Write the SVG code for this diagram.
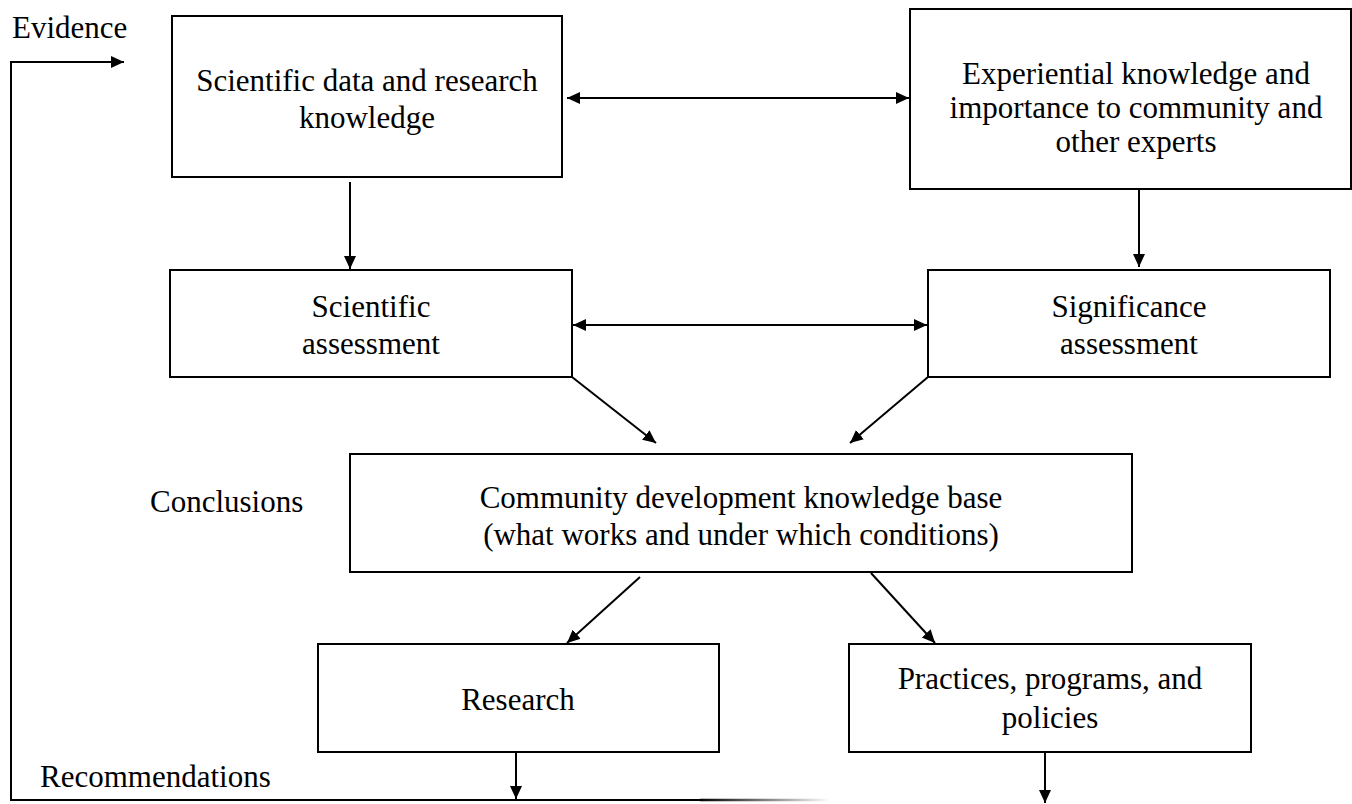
<svg xmlns="http://www.w3.org/2000/svg" width="1352" height="804" viewBox="0 0 1352 804">
<defs>
<style>
.box{fill:#fff;stroke:#000;stroke-width:2}
.t{font-family:"Liberation Serif","Times New Roman",serif;font-size:31px;fill:#000}
.c{text-anchor:middle}
.ln{fill:none;stroke:#000;stroke-width:2}
</style>
<marker id="ah" markerUnits="userSpaceOnUse" markerWidth="14" markerHeight="14" viewBox="0 0 14 12" refX="13" refY="6" orient="auto-start-reverse">
<path d="M0,0 L13,6 L0,12 z" fill="#000"/>
</marker>
<linearGradient id="fade" gradientUnits="userSpaceOnUse" x1="700" y1="0" x2="830" y2="0">
<stop offset="0" stop-color="#000"/>
<stop offset="1" stop-color="#000" stop-opacity="0"/>
</linearGradient>
</defs>
<rect width="1352" height="804" fill="#fff"/>

<g id="labels">
<text class="t" x="12" y="38">Evidence</text>
<text class="t" x="150" y="512">Conclusions</text>
<text class="t" x="40" y="787">Recommendations</text>
</g>

<g id="node-scientific-data">
<rect class="box" x="172" y="16" width="390" height="161"/>
<text class="t c" x="367" y="91">Scientific data and research</text>
<text class="t c" x="367" y="128">knowledge</text>
</g>

<g id="node-experiential">
<rect class="box" x="910" y="9" width="441" height="180"/>
<text class="t c" x="1136" y="84">Experiential knowledge and</text>
<text class="t c" x="1136" y="118">importance to community and</text>
<text class="t c" x="1136" y="152">other experts</text>
</g>

<g id="node-scientific-assessment">
<rect class="box" x="170" y="270" width="402" height="107"/>
<text class="t c" x="371" y="317">Scientific</text>
<text class="t c" x="371" y="354">assessment</text>
</g>

<g id="node-significance-assessment">
<rect class="box" x="928" y="270" width="402" height="107"/>
<text class="t c" x="1129" y="317">Significance</text>
<text class="t c" x="1129" y="354">assessment</text>
</g>

<g id="node-knowledge-base">
<rect class="box" x="350" y="454" width="782" height="118"/>
<text class="t c" x="741" y="508">Community development knowledge base</text>
<text class="t c" x="741" y="545">(what works and under which conditions)</text>
</g>

<g id="node-research">
<rect class="box" x="318" y="644" width="401" height="108"/>
<text class="t c" x="518" y="710">Research</text>
</g>

<g id="node-practices">
<rect class="box" x="849" y="644" width="402" height="108"/>
<text class="t c" x="1050" y="689">Practices, programs, and</text>
<text class="t c" x="1050" y="728">policies</text>
</g>

<g id="connectors">
<line class="ln" x1="567" y1="98" x2="909" y2="98" marker-start="url(#ah)" marker-end="url(#ah)"/>
<line class="ln" x1="350" y1="182" x2="350" y2="269" marker-end="url(#ah)"/>
<line class="ln" x1="1139" y1="189" x2="1139" y2="267" marker-end="url(#ah)"/>
<line class="ln" x1="573" y1="325" x2="927" y2="325" marker-start="url(#ah)" marker-end="url(#ah)"/>
<line class="ln" x1="572" y1="377" x2="656" y2="443" marker-end="url(#ah)"/>
<line class="ln" x1="928" y1="377" x2="850" y2="443" marker-end="url(#ah)"/>
<line class="ln" x1="640" y1="577" x2="567" y2="643" marker-end="url(#ah)"/>
<line class="ln" x1="871" y1="573" x2="935" y2="643" marker-end="url(#ah)"/>
<line class="ln" x1="516" y1="752" x2="516" y2="799" marker-end="url(#ah)"/>
<line class="ln" x1="1045" y1="752" x2="1045" y2="803" marker-end="url(#ah)"/>
<polyline class="ln" points="700,800 11,800 11,62 124,62" marker-end="url(#ah)"/>
<line x1="700" y1="800" x2="830" y2="800" stroke="url(#fade)" stroke-width="2.5"/>
</g>
</svg>
